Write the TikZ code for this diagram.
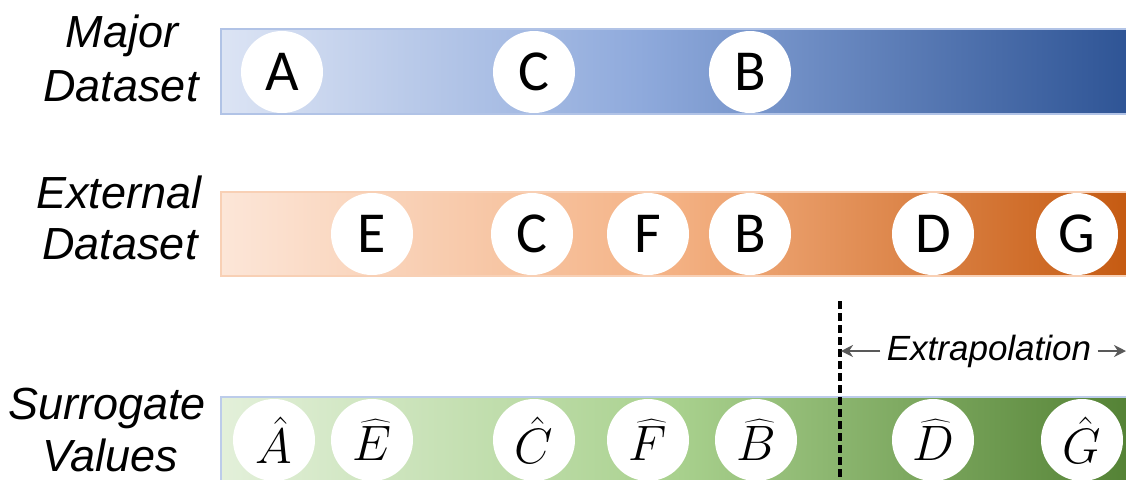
\documentclass[tikz,border=0pt]{standalone}
\usepackage{fontspec}
\setmainfont{Liberation Sans}
\newfontfamily\circfont{Carlito}
\usetikzlibrary{arrows.meta}

% bar gradient colours
\definecolor{blueL}{HTML}{DCE4F4}
\definecolor{blueM}{HTML}{8FAADC}
\definecolor{blueR}{HTML}{2E5495}
\definecolor{orgL}{HTML}{FCE6D8}
\definecolor{orgM}{HTML}{F4B183}
\definecolor{orgR}{HTML}{C55A11}
\definecolor{grnL}{HTML}{E3F0DA}
\definecolor{grnM}{HTML}{A9D18E}
\definecolor{grnR}{HTML}{548235}
\definecolor{arrowgray}{HTML}{595959}

\pgfdeclarehorizontalshading{majorshade}{100bp}{color(0bp)=(blueL); color(25bp)=(blueL); color(48bp)=(blueM); color(75bp)=(blueR); color(100bp)=(blueR)}
\pgfdeclarehorizontalshading{externalshade}{100bp}{color(0bp)=(orgL); color(25bp)=(orgL); color(50bp)=(orgM); color(75bp)=(orgR); color(100bp)=(orgR)}
\pgfdeclarehorizontalshading{surrogateshade}{100bp}{color(0bp)=(grnL); color(25bp)=(grnL); color(50bp)=(grnM); color(75bp)=(grnR); color(100bp)=(grnR)}

\tikzset{
  rowlabel/.style={font=\fontsize{22.5}{26}\selectfont\itshape, anchor=base, inner sep=0pt},
  item/.style={circle, fill=white, minimum size=41pt, inner sep=0pt,
               font=\circfont\fontsize{29}{29}\selectfont},
  estimate/.style={circle, fill=white, minimum size=41pt, inner sep=0pt,
               font=\fontsize{26}{26}\selectfont},
  extarrow/.style={draw=arrowgray, line width=1.3pt, -{Stealth[length=6pt,width=6pt]}},
}

\begin{document}
\begin{tikzpicture}[x=0.5pt, y=-0.5pt]
\useasboundingbox (0,0) rectangle (1126,479);

% row labels
\node[rowlabel] (majA) at (122,47) {Major};
\node[rowlabel] (majB) at (121,101) {Dataset};
\node[rowlabel] (extA) at (119,208) {External};
\node[rowlabel] (extB) at (120,259) {Dataset};
\node[rowlabel] (surA) at (107,419) {Surrogate};
\node[rowlabel] (surB) at (110,471) {Values};

% bars
\path[shading=majorshade, draw=blueM!70, line width=0.6pt] (221,29) rectangle (1130,114);
\path[shading=externalshade, draw=orgM!60, line width=0.6pt] (221,192) rectangle (1130,276);
\path[shading=surrogateshade, draw=blueM!60, line width=0.6pt] (221,397) rectangle (1130,484);

% major dataset
\node[item] (mA) at (282,72) {A};
\node[item] (mC) at (534,72) {C};
\node[item] (mB) at (750,72) {B};

% external dataset
\node[item] (eE) at (372,234) {E};
\node[item] (eC) at (532,234) {C};
\node[item] (eF) at (648,234) {F};
\node[item] (eB) at (750,234) {B};
\node[item] (eD) at (933,234) {D};
\node[item] (eG) at (1077,234) {G};

% surrogate values
\node[estimate] (sA) at (274,440) {$\hat{A}$};
\node[estimate] (sE) at (372,440) {$\widehat{E}$};
\node[estimate] (sC) at (534,440) {$\hat{C}$};
\node[estimate] (sF) at (648,440) {$\widehat{F}$};
\node[estimate] (sB) at (756,440) {$\widehat{B}$};
\node[estimate] (sD) at (933,440) {$\widehat{D}$};
\node[estimate] (sG) at (1082,440) {$\hat{G}$};

% extrapolation boundary
\coordinate (cutTop) at (840,301);
\coordinate (cutBot) at (840,482);
\draw[line width=1.6pt, dash pattern=on 4pt off 2pt] (cutTop) -- (cutBot);

\node[font=\fontsize{17.5}{17.5}\selectfont\itshape, inner sep=0pt] (extrap) at (989,351) {Extrapolation};
\coordinate (extL) at (841,351);
\coordinate (extR) at (1126,351);
\draw[extarrow] ([xshift=-3pt]extrap.west) -- (extL);
\draw[extarrow] ([xshift=3pt]extrap.east) -- (extR);
\end{tikzpicture}
\end{document}
